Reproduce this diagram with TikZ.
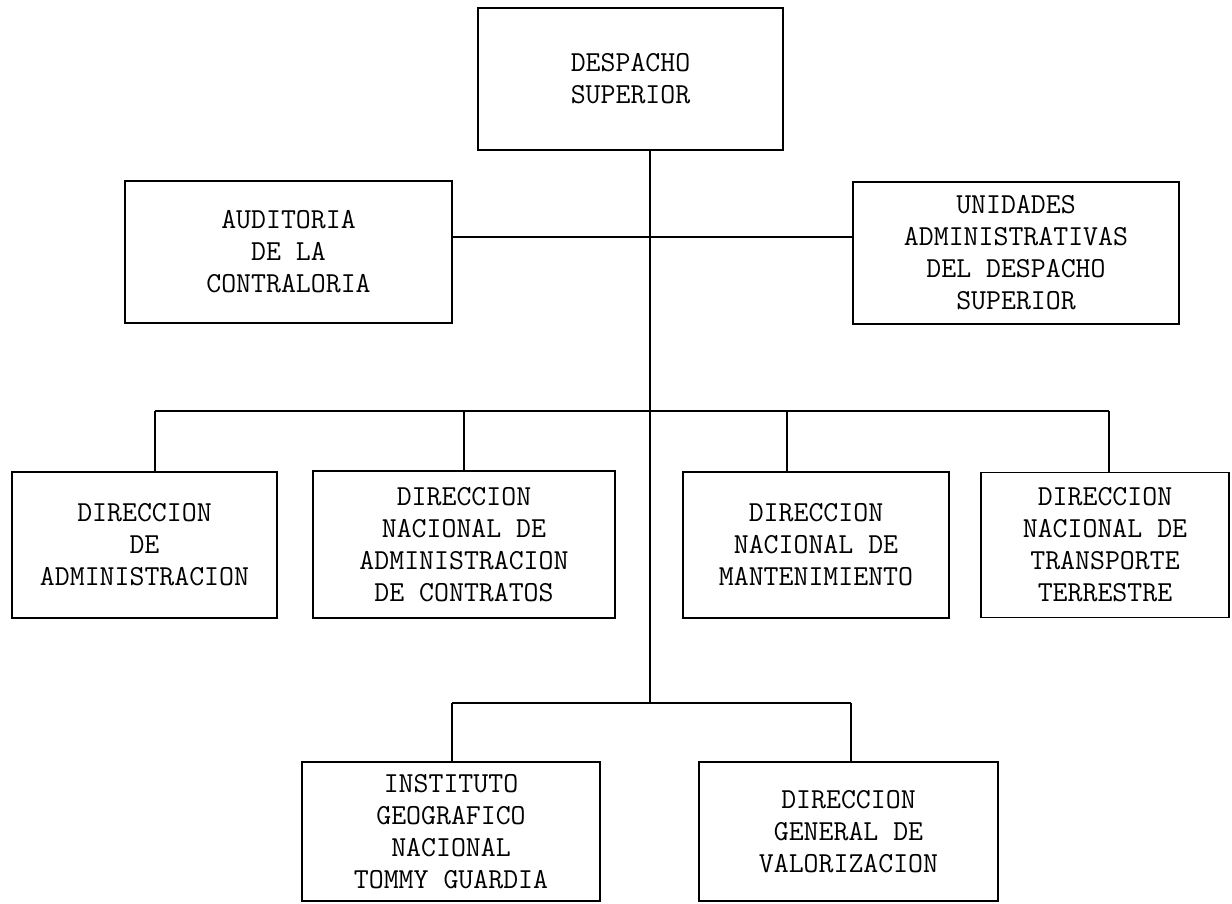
\documentclass[tikz,border=0pt]{standalone}
\usepackage{fontspec}
\begin{document}
\begin{tikzpicture}[x=1pt,y=-1pt,
	caja/.style={draw, line width=1.8pt, align=center, inner sep=0pt, font=\fontsize{29}{32}\selectfont\ttfamily},
	linea/.style={line width=1.3pt}]
		\useasboundingbox (0,0) rectangle (1232,904);
		% despacho y unidades de staff
		\node[caja, minimum width=305pt, minimum height=142pt] (sup) at (630.5,79) {DESPACHO\\SUPERIOR};
		\node[caja, minimum width=327pt, minimum height=142pt] (aud) at (288.5,252) {AUDITORIA\\DE LA\\CONTRALORIA};
		\node[caja, minimum width=326pt, minimum height=142pt] (uni) at (1016,253) {UNIDADES\\ADMINISTRATIVAS\\DEL DESPACHO\\SUPERIOR};
		% direcciones
		\node[caja, minimum width=265pt, minimum height=146pt] (adm) at (144.5,545) {DIRECCION\\DE\\ADMINISTRACION};
		\node[caja, minimum width=302pt, minimum height=147pt] (con) at (464,544.5) {DIRECCION\\NACIONAL DE\\ADMINISTRACION\\DE CONTRATOS};
		\node[caja, minimum width=266pt, minimum height=146pt] (man) at (816,545) {DIRECCION\\NACIONAL DE\\MANTENIMIENTO};
		\node[caja, minimum width=248pt, minimum height=145pt] (tra) at (1105,545) {DIRECCION\\NACIONAL DE\\TRANSPORTE\\TERRESTRE};
		% instituciones
		\node[caja, minimum width=298pt, minimum height=139pt] (igt) at (451,831.5) {INSTITUTO\\GEOGRAFICO\\NACIONAL\\TOMMY GUARDIA};
		\node[caja, minimum width=299pt, minimum height=139pt] (val) at (848.5,831.5) {DIRECCION\\GENERAL DE\\VALORIZACION};
		% lineas
		\coordinate (t0) at (650,150);
		\coordinate (t2) at (650,703);
		\coordinate (s1) at (452,237);
		\coordinate (b1) at (155,411);
		\coordinate (b2) at (464,411);
		\coordinate (b3) at (787,411);
		\coordinate (b4) at (1109,411);
		\coordinate (c1) at (452,703);
		\coordinate (c2) at (851,703);
		\draw[linea] (t0) -- (t2);
		\draw[linea] (s1) -- (s1 -| uni.west);
		\draw[linea] (b1) -- (b4);
		\draw[linea] (b1) -- (b1 |- adm.north);
		\draw[linea] (b2) -- (b2 |- con.north);
		\draw[linea] (b3) -- (b3 |- man.north);
		\draw[linea] (b4) -- (b4 |- tra.north);
		\draw[linea] (c1) -- (c2);
		\draw[linea] (c1) -- (c1 |- igt.north);
		\draw[linea] (c2) -- (c2 |- val.north);
\end{tikzpicture}
\end{document}
